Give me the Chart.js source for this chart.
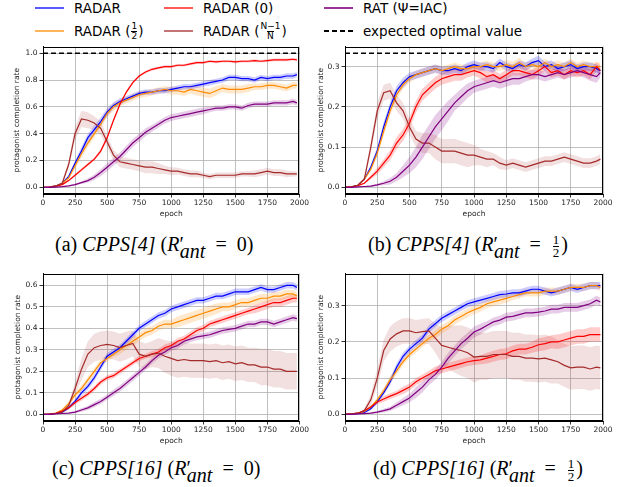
<!DOCTYPE html>
<html>
<head>
<meta charset="utf-8">
<script src="https://cdn.jsdelivr.net/npm/chart.js@4.4.1/dist/chart.umd.min.js"></script>
<style>
  body { margin: 0; background: #fff; }
  #fig { position: relative; width: 628px; height: 487px; overflow: hidden; font-family: "DejaVu Sans", sans-serif; color: #000; }
  .panel { position: absolute; }
  .lg { position: absolute; height: 20px; display: flex; align-items: center; font-size: 13.5px; white-space: nowrap; }
  .sw { display: inline-block; width: 29px; height: 2px; margin-right: 10px; }
  .frac { display: inline-flex; flex-direction: column; align-items: center; font-size: 9px; line-height: 9px; vertical-align: middle; margin: 0 1px; }
  .frac span + span { border-top: 1px solid #000; }
  .cap { position: absolute; font-family: "Liberation Serif", serif; font-size: 20px; white-space: nowrap; line-height: 24px; }
  .cap .s { font-style: italic; position: relative; top: 7px; margin-left: -4px; }
  .cap .eq { margin: 0 5px; }
  .cap .cf { display: inline-flex; flex-direction: column; align-items: center; font-size: 13px; line-height: 12px; vertical-align: middle; margin: 0 2px; }
  .cap .cf span + span { border-top: 1px solid #000; }
</style>
</head>
<body>
<div id="fig">
  <div class="lg" style="left:35px;top:-2px"><span class="sw" style="background:rgba(0,0,255,0.65)"></span>RADAR</div>
  <div class="lg" style="left:35px;top:21px"><span class="sw" style="background:rgba(255,140,0,0.65)"></span>RADAR (<span class="frac"><span>1</span><span>2</span></span>)</div>
  <div class="lg" style="left:164px;top:-2px"><span class="sw" style="background:rgba(255,0,0,0.65)"></span>RADAR (0)</div>
  <div class="lg" style="left:164px;top:21px"><span class="sw" style="background:rgba(165,42,42,0.65)"></span>RADAR (<span class="frac"><span>N−1</span><span>N</span></span>)</div>
  <div class="lg" style="left:324px;top:-2px"><span class="sw" style="background:rgba(128,0,128,0.8)"></span>RAT (Ψ=IAC)</div>
  <div class="lg" style="left:324px;top:21px"><span class="sw" style="background:repeating-linear-gradient(to right,#000 0 5px,transparent 5px 8px)"></span>expected optimal value</div>

  <div class="panel" style="left:0;top:40px"><canvas id="ca" width="310" height="180"></canvas></div>
  <div class="panel" style="left:315px;top:40px"><canvas id="cb" width="313" height="180"></canvas></div>
  <div class="panel" style="left:0;top:267px"><canvas id="cc" width="310" height="180"></canvas></div>
  <div class="panel" style="left:315px;top:267px"><canvas id="cd" width="313" height="180"></canvas></div>

  <div class="cap" style="left:55px;top:232px">(a) <i>CPPS[4]</i> (<i>R</i>′<span class="s">ant</span> <span class="eq">=</span> 0)</div>
  <div class="cap" style="left:368px;top:232px">(b) <i>CPPS[4]</i> (<i>R</i>′<span class="s">ant</span> <span class="eq">=</span> <span class="cf"><span>1</span><span>2</span></span>)</div>
  <div class="cap" style="left:52px;top:456px">(c) <i>CPPS[16]</i> (<i>R</i>′<span class="s">ant</span> <span class="eq">=</span> 0)</div>
  <div class="cap" style="left:373px;top:456px">(d) <i>CPPS[16]</i> (<i>R</i>′<span class="s">ant</span> <span class="eq">=</span> <span class="cf"><span>1</span><span>2</span></span>)</div>
</div>
<script>
const epochs = [0,50,100,150,200,250,300,350,400,450,500,550,600,650,700,750,800,850,900,950,1000,1050,1100,1150,1200,1250,1300,1350,1400,1450,1500,1550,1600,1650,1700,1750,1800,1850,1900,1950,1980];

// (a) CPPS[4], R'ant = 0
const aRadar = [0,0.002,0.01,0.03,0.08,0.18,0.27,0.37,0.43,0.49,0.56,0.61,0.64,0.66,0.68,0.7,0.71,0.71,0.72,0.72,0.73,0.74,0.75,0.75,0.76,0.77,0.78,0.79,0.8,0.82,0.82,0.81,0.81,0.8,0.82,0.81,0.82,0.82,0.83,0.83,0.84];
const aHalf  = [0,0.002,0.01,0.03,0.07,0.16,0.25,0.33,0.4,0.47,0.55,0.6,0.63,0.65,0.67,0.69,0.7,0.71,0.72,0.73,0.72,0.72,0.71,0.73,0.72,0.71,0.7,0.72,0.74,0.73,0.73,0.73,0.74,0.75,0.75,0.76,0.76,0.75,0.74,0.76,0.76];
const aZero  = [0,0.002,0.008,0.02,0.05,0.09,0.13,0.17,0.21,0.27,0.37,0.5,0.62,0.71,0.78,0.83,0.86,0.88,0.89,0.9,0.9,0.91,0.91,0.92,0.93,0.93,0.94,0.935,0.94,0.94,0.935,0.94,0.94,0.945,0.94,0.945,0.95,0.95,0.95,0.955,0.95];
const aNm1   = [0,0.002,0.01,0.03,0.17,0.4,0.51,0.5,0.48,0.44,0.34,0.24,0.19,0.18,0.17,0.16,0.15,0.15,0.14,0.13,0.12,0.12,0.11,0.1,0.1,0.09,0.08,0.09,0.09,0.09,0.09,0.1,0.1,0.1,0.11,0.12,0.11,0.11,0.1,0.1,0.1];
const aRat   = [0,0,0.002,0.005,0.01,0.02,0.035,0.05,0.075,0.11,0.15,0.19,0.23,0.28,0.33,0.37,0.41,0.44,0.47,0.5,0.52,0.53,0.54,0.55,0.56,0.57,0.58,0.59,0.59,0.6,0.6,0.59,0.61,0.62,0.62,0.62,0.63,0.63,0.63,0.64,0.63];
const aRadarSd = [0,0,0.002,0.005,0.01,0.02,0.03,0.03,0.03,0.03,0.03,0.025,0.025,0.02,0.02,0.02,0.02,0.02,0.02,0.02,0.02,0.02,0.02,0.02,0.02,0.02,0.02,0.02,0.02,0.02,0.02,0.02,0.02,0.02,0.02,0.02,0.02,0.02,0.02,0.02,0.02];
const aHalfSd  = [0,0,0.002,0.005,0.01,0.02,0.03,0.03,0.03,0.03,0.03,0.03,0.025,0.025,0.025,0.025,0.025,0.025,0.025,0.025,0.03,0.03,0.03,0.03,0.035,0.035,0.035,0.035,0.03,0.03,0.03,0.03,0.03,0.025,0.025,0.025,0.025,0.025,0.025,0.025,0.025];
const aZeroSd  = [0,0,0.002,0.004,0.008,0.01,0.012,0.012,0.012,0.015,0.015,0.015,0.015,0.012,0.01,0.01,0.01,0.01,0.01,0.01,0.01,0.01,0.01,0.01,0.01,0.01,0.01,0.01,0.01,0.01,0.01,0.01,0.01,0.01,0.01,0.01,0.01,0.01,0.01,0.01,0.01];
const aNm1Sd   = [0,0,0.004,0.01,0.03,0.05,0.06,0.06,0.05,0.05,0.04,0.04,0.04,0.04,0.04,0.04,0.045,0.045,0.04,0.03,0.03,0.025,0.025,0.025,0.025,0.02,0.02,0.02,0.02,0.02,0.02,0.02,0.02,0.025,0.025,0.025,0.025,0.025,0.025,0.02,0.02];
const aRatSd   = [0,0,0.001,0.002,0.004,0.006,0.01,0.015,0.02,0.025,0.03,0.03,0.03,0.03,0.03,0.03,0.03,0.025,0.025,0.025,0.025,0.025,0.025,0.025,0.025,0.025,0.02,0.02,0.02,0.02,0.02,0.02,0.02,0.02,0.02,0.02,0.02,0.02,0.02,0.02,0.02];

// (b) CPPS[4], R'ant = 1/2
const bRadar = [0,0.001,0.005,0.02,0.05,0.09,0.15,0.2,0.24,0.26,0.275,0.28,0.285,0.29,0.295,0.29,0.29,0.295,0.29,0.3,0.305,0.3,0.3,0.295,0.31,0.3,0.295,0.305,0.3,0.31,0.315,0.3,0.305,0.295,0.3,0.305,0.295,0.3,0.3,0.295,0.29];
const bHalf  = [0,0.001,0.005,0.02,0.045,0.085,0.14,0.19,0.23,0.255,0.27,0.28,0.285,0.29,0.295,0.29,0.295,0.3,0.295,0.295,0.3,0.3,0.305,0.3,0.3,0.305,0.3,0.31,0.3,0.305,0.3,0.31,0.3,0.305,0.3,0.31,0.3,0.305,0.3,0.3,0.3];
const bZero  = [0,0.001,0.004,0.01,0.025,0.04,0.06,0.08,0.11,0.13,0.16,0.2,0.23,0.245,0.26,0.27,0.275,0.28,0.28,0.285,0.29,0.285,0.275,0.28,0.27,0.28,0.29,0.29,0.285,0.28,0.29,0.3,0.285,0.29,0.28,0.29,0.285,0.29,0.28,0.3,0.29];
const bNm1   = [0,0.001,0.005,0.02,0.1,0.19,0.235,0.24,0.21,0.19,0.15,0.12,0.11,0.11,0.1,0.09,0.09,0.09,0.085,0.08,0.08,0.075,0.07,0.07,0.06,0.055,0.06,0.055,0.05,0.055,0.06,0.065,0.065,0.07,0.075,0.07,0.065,0.06,0.06,0.065,0.07];
const bRat   = [0,0,0.001,0.002,0.003,0.006,0.01,0.015,0.025,0.04,0.055,0.075,0.1,0.125,0.15,0.17,0.19,0.21,0.225,0.24,0.25,0.255,0.26,0.265,0.26,0.265,0.27,0.27,0.275,0.28,0.28,0.275,0.28,0.285,0.28,0.285,0.29,0.285,0.28,0.275,0.285];
const bRadarSd = [0,0,0.001,0.003,0.006,0.01,0.012,0.012,0.012,0.012,0.01,0.01,0.01,0.01,0.01,0.01,0.01,0.01,0.01,0.01,0.01,0.01,0.01,0.01,0.01,0.01,0.01,0.01,0.01,0.01,0.012,0.012,0.01,0.01,0.01,0.01,0.01,0.01,0.01,0.01,0.01];
const bHalfSd  = [0,0,0.001,0.003,0.006,0.01,0.012,0.012,0.012,0.01,0.01,0.01,0.01,0.01,0.01,0.01,0.01,0.01,0.01,0.01,0.01,0.01,0.01,0.01,0.01,0.012,0.012,0.012,0.01,0.01,0.01,0.01,0.01,0.01,0.01,0.01,0.01,0.01,0.01,0.01,0.01];
const bZeroSd  = [0,0,0.001,0.002,0.005,0.008,0.01,0.012,0.015,0.015,0.015,0.015,0.015,0.015,0.015,0.015,0.015,0.015,0.015,0.012,0.012,0.015,0.015,0.012,0.012,0.012,0.012,0.012,0.012,0.012,0.012,0.012,0.012,0.012,0.012,0.012,0.012,0.012,0.012,0.012,0.012];
const bNm1Sd   = [0,0,0.002,0.005,0.015,0.02,0.02,0.02,0.02,0.02,0.02,0.02,0.025,0.025,0.03,0.03,0.03,0.03,0.03,0.03,0.025,0.02,0.02,0.015,0.015,0.012,0.012,0.012,0.012,0.012,0.012,0.012,0.012,0.012,0.012,0.012,0.012,0.012,0.012,0.012,0.012];
const bRatSd   = [0,0,0.001,0.001,0.002,0.003,0.005,0.008,0.01,0.015,0.02,0.025,0.03,0.03,0.03,0.028,0.025,0.02,0.02,0.018,0.015,0.015,0.015,0.015,0.015,0.015,0.015,0.015,0.012,0.012,0.012,0.012,0.012,0.012,0.012,0.012,0.012,0.012,0.015,0.015,0.012];

// (c) CPPS[16], R'ant = 0
const cRadar = [0,0.001,0.004,0.01,0.03,0.06,0.1,0.13,0.17,0.22,0.27,0.29,0.31,0.34,0.37,0.4,0.42,0.44,0.46,0.47,0.49,0.5,0.51,0.52,0.53,0.53,0.54,0.55,0.55,0.56,0.57,0.57,0.57,0.58,0.59,0.58,0.58,0.59,0.6,0.6,0.59];
const cHalf  = [0,0.001,0.006,0.02,0.05,0.09,0.12,0.16,0.2,0.24,0.26,0.28,0.3,0.32,0.34,0.36,0.38,0.39,0.41,0.42,0.42,0.43,0.44,0.45,0.46,0.47,0.48,0.49,0.5,0.5,0.51,0.52,0.52,0.53,0.54,0.54,0.55,0.55,0.56,0.56,0.55];
const cZero  = [0,0.001,0.005,0.015,0.03,0.055,0.075,0.095,0.12,0.15,0.17,0.18,0.2,0.22,0.24,0.26,0.27,0.28,0.29,0.31,0.32,0.34,0.35,0.37,0.39,0.4,0.42,0.43,0.44,0.45,0.46,0.47,0.48,0.49,0.5,0.51,0.52,0.52,0.53,0.54,0.54];
const cNm1   = [0,0.001,0.004,0.01,0.04,0.12,0.21,0.28,0.31,0.32,0.325,0.32,0.31,0.32,0.33,0.28,0.27,0.28,0.285,0.27,0.26,0.25,0.255,0.25,0.25,0.25,0.245,0.25,0.24,0.245,0.235,0.24,0.23,0.23,0.22,0.22,0.21,0.21,0.2,0.2,0.2];
const cRat   = [0,0,0.002,0.004,0.006,0.01,0.02,0.03,0.045,0.06,0.08,0.1,0.12,0.145,0.17,0.195,0.22,0.25,0.275,0.29,0.31,0.32,0.34,0.35,0.36,0.365,0.37,0.38,0.39,0.395,0.4,0.41,0.42,0.42,0.43,0.43,0.42,0.43,0.44,0.45,0.445];
const cRadarSd = [0,0,0.002,0.004,0.008,0.01,0.012,0.015,0.015,0.015,0.015,0.015,0.015,0.015,0.015,0.015,0.015,0.015,0.015,0.015,0.015,0.015,0.015,0.015,0.015,0.015,0.015,0.015,0.015,0.015,0.015,0.015,0.015,0.015,0.015,0.015,0.015,0.015,0.015,0.015,0.015];
const cHalfSd  = [0,0,0.002,0.005,0.01,0.012,0.015,0.015,0.015,0.015,0.015,0.015,0.02,0.02,0.02,0.02,0.02,0.02,0.02,0.02,0.02,0.025,0.025,0.025,0.025,0.025,0.025,0.025,0.02,0.02,0.02,0.02,0.02,0.02,0.02,0.02,0.02,0.02,0.02,0.02,0.02];
const cZeroSd  = [0,0,0.002,0.004,0.008,0.01,0.012,0.012,0.012,0.012,0.012,0.012,0.012,0.012,0.012,0.012,0.012,0.015,0.015,0.015,0.015,0.015,0.015,0.015,0.015,0.015,0.015,0.015,0.015,0.015,0.015,0.015,0.015,0.02,0.02,0.02,0.02,0.02,0.02,0.02,0.02];
const cNm1Sd   = [0,0,0.002,0.005,0.015,0.03,0.05,0.06,0.065,0.065,0.065,0.065,0.065,0.065,0.06,0.06,0.06,0.06,0.07,0.075,0.08,0.08,0.08,0.08,0.08,0.08,0.08,0.08,0.08,0.08,0.08,0.08,0.08,0.08,0.085,0.085,0.085,0.085,0.085,0.085,0.085];
const cRatSd   = [0,0,0.001,0.002,0.003,0.005,0.008,0.01,0.012,0.012,0.012,0.015,0.015,0.015,0.015,0.015,0.015,0.015,0.015,0.015,0.015,0.015,0.015,0.015,0.015,0.015,0.015,0.015,0.015,0.015,0.015,0.015,0.015,0.015,0.015,0.015,0.015,0.015,0.015,0.015,0.015];

// (d) CPPS[16], R'ant = 1/2
const dRadar = [0,0.001,0.002,0.005,0.015,0.035,0.06,0.09,0.13,0.16,0.18,0.195,0.21,0.235,0.25,0.265,0.275,0.285,0.295,0.305,0.31,0.315,0.32,0.325,0.33,0.332,0.335,0.335,0.34,0.345,0.345,0.34,0.335,0.34,0.345,0.35,0.345,0.35,0.355,0.355,0.355];
const dHalf  = [0,0.001,0.003,0.008,0.02,0.04,0.065,0.095,0.12,0.145,0.165,0.18,0.195,0.21,0.22,0.235,0.245,0.26,0.27,0.28,0.288,0.295,0.305,0.31,0.315,0.32,0.325,0.33,0.335,0.335,0.335,0.34,0.34,0.34,0.345,0.35,0.35,0.35,0.355,0.355,0.35];
const dZero  = [0,0.001,0.003,0.01,0.02,0.034,0.042,0.05,0.057,0.066,0.075,0.09,0.1,0.11,0.12,0.125,0.13,0.135,0.14,0.145,0.148,0.15,0.155,0.16,0.165,0.167,0.175,0.18,0.18,0.185,0.192,0.195,0.2,0.2,0.205,0.21,0.215,0.215,0.22,0.22,0.22];
const dNm1   = [0,0.001,0.003,0.01,0.04,0.1,0.176,0.208,0.222,0.23,0.23,0.225,0.228,0.23,0.21,0.19,0.185,0.18,0.176,0.17,0.158,0.16,0.16,0.165,0.165,0.165,0.16,0.16,0.155,0.155,0.153,0.155,0.15,0.145,0.135,0.128,0.13,0.13,0.125,0.13,0.128];
const dRat   = [0,0,0.001,0.002,0.003,0.006,0.01,0.015,0.025,0.035,0.045,0.06,0.075,0.095,0.11,0.13,0.155,0.175,0.195,0.21,0.227,0.235,0.245,0.255,0.26,0.268,0.27,0.275,0.28,0.28,0.282,0.285,0.29,0.29,0.295,0.295,0.295,0.3,0.305,0.315,0.31];
const dRadarSd = [0,0,0.001,0.002,0.004,0.006,0.008,0.01,0.01,0.01,0.01,0.01,0.01,0.01,0.01,0.01,0.01,0.01,0.01,0.01,0.01,0.01,0.01,0.01,0.01,0.01,0.01,0.01,0.01,0.01,0.01,0.01,0.01,0.01,0.01,0.01,0.01,0.01,0.01,0.01,0.01];
const dHalfSd  = [0,0,0.001,0.002,0.004,0.006,0.008,0.01,0.01,0.01,0.01,0.01,0.01,0.01,0.012,0.012,0.012,0.012,0.012,0.012,0.012,0.012,0.012,0.012,0.012,0.012,0.01,0.01,0.01,0.01,0.01,0.01,0.01,0.01,0.01,0.01,0.01,0.01,0.01,0.01,0.01];
const dZeroSd  = [0,0,0.001,0.002,0.004,0.006,0.008,0.008,0.008,0.01,0.01,0.01,0.01,0.01,0.012,0.012,0.012,0.012,0.012,0.012,0.012,0.012,0.015,0.015,0.015,0.015,0.015,0.015,0.015,0.015,0.018,0.018,0.018,0.02,0.02,0.02,0.02,0.02,0.02,0.02,0.02];
const dNm1Sd   = [0,0,0.002,0.005,0.015,0.025,0.03,0.035,0.035,0.035,0.035,0.035,0.035,0.035,0.04,0.05,0.06,0.065,0.07,0.07,0.07,0.065,0.065,0.065,0.065,0.065,0.065,0.065,0.065,0.065,0.065,0.065,0.065,0.06,0.06,0.06,0.06,0.06,0.06,0.06,0.06];
const dRatSd   = [0,0,0.001,0.001,0.002,0.003,0.005,0.006,0.008,0.01,0.012,0.015,0.015,0.015,0.015,0.015,0.015,0.015,0.015,0.015,0.015,0.015,0.012,0.012,0.012,0.012,0.012,0.012,0.012,0.012,0.012,0.012,0.012,0.012,0.012,0.012,0.012,0.012,0.012,0.012,0.012];

// expected optimal value per panel (only shown for CPPS[4])
const expectedA = 1.0;
const expectedB = 1 / 3;

const colors = ['#0000ff', '#ff8c00', '#ff0000', '#a52a2a', '#800080'];
const lineOrder = [5, 4, 3, 2, 1];

function fade(hex, a) {
  const n = parseInt(hex.slice(1), 16);
  return `rgba(${n >> 16},${(n >> 8) & 255},${n & 255},${a})`;
}

const frame = {
  id: 'frame',
  afterDatasetsDraw(chart) {
    const { ctx, chartArea: a } = chart;
    ctx.save();
    ctx.strokeStyle = '#000';
    ctx.lineWidth = 1;
    const l = Math.round(a.left) + 0.5, t = Math.round(a.top) + 0.5;
    const r = Math.round(a.right) - 0.5, b = Math.round(a.bottom) - 0.5;
    ctx.strokeRect(l, t, r - l, b - t);
    ctx.restore();
  }
};

function panel(id, means, sds, expected, yMin, yMax, yStep, yAxisW, yTitlePad, padRight) {
  const datasets = [];
  means.forEach((vals, i) => {
    const lo = epochs.map((e, k) => ({ x: e, y: vals[k] - sds[i][k] }));
    const hi = epochs.map((e, k) => ({ x: e, y: vals[k] + sds[i][k] }));
    datasets.push({ data: lo, borderWidth: 0, pointRadius: 0, fill: false, order: 20 + i });
    datasets.push({ data: hi, borderWidth: 0, pointRadius: 0, fill: '-1',
      backgroundColor: fade(colors[i], i === 3 ? 0.15 : 0.2), order: 20 + i });
  });
  means.forEach((vals, i) => {
    datasets.push({
      data: epochs.map((e, k) => ({ x: e, y: vals[k] })),
      borderColor: colors[i], borderWidth: 1.2, pointRadius: 0, fill: false, order: lineOrder[i]
    });
  });
  if (expected !== null) {
    datasets.push({
      data: [{ x: 0, y: expected }, { x: 2000, y: expected }],
      borderColor: '#000', borderWidth: 1.5, borderDash: [5, 3], pointRadius: 0, fill: false, order: 0
    });
  }
  const tickFont = { family: 'DejaVu Sans', size: 7.5 };
  return new Chart(document.getElementById(id), {
    type: 'line',
    data: { datasets },
    plugins: [frame],
    options: {
      responsive: false,
      animation: false,
      layout: { padding: { left: 0, top: 5, right: padRight, bottom: 0 } },
      plugins: { legend: { display: false }, tooltip: { enabled: false } },
      scales: {
        x: {
          type: 'linear', min: 0, max: 2000,
          ticks: { stepSize: 250, font: tickFont, color: '#222', padding: 1, maxRotation: 0, autoSkip: false,
            callback: v => String(v) },
          grid: { color: '#b0b0b0', lineWidth: 0.8, tickColor: '#000', tickLength: 3.5 },
          border: { display: true, color: '#000' },
          title: { display: true, text: 'epoch', font: tickFont, color: '#222', padding: { top: 0, bottom: 1 } },
          afterFit(s) { s.height = 26; }
        },
        y: {
          type: 'linear', min: yMin, max: yMax,
          ticks: { stepSize: yStep, includeBounds: false, font: tickFont, color: '#222', padding: 2,
            callback: v => v.toFixed(1) },
          grid: { color: '#b0b0b0', lineWidth: 0.8, tickColor: '#000', tickLength: 3.5 },
          border: { display: true, color: '#000' },
          title: { display: true, text: 'protagonist completion rate', font: tickFont, color: '#222',
            padding: { top: yTitlePad, bottom: 0 } },
          afterFit(s) { s.width = yAxisW; }
        }
      }
    }
  });
}

panel('ca', [aRadar, aHalf, aZero, aNm1, aRat], [aRadarSd, aHalfSd, aZeroSd, aNm1Sd, aRatSd], expectedA, -0.05, 1.05, 0.2, 43, 13, 10);
panel('cb', [bRadar, bHalf, bZero, bNm1, bRat], [bRadarSd, bHalfSd, bZeroSd, bNm1Sd, bRatSd], expectedB, -0.0167, 0.35, 0.1, 30, 2, 25);
panel('cc', [cRadar, cHalf, cZero, cNm1, cRat], [cRadarSd, cHalfSd, cZeroSd, cNm1Sd, cRatSd], null, -0.031, 0.655, 0.1, 43, 14, 10);
panel('cd', [dRadar, dHalf, dZero, dNm1, dRat], [dRadarSd, dHalfSd, dZeroSd, dNm1Sd, dRatSd], null, -0.0185, 0.3885, 0.1, 30, 2, 25);
</script>
</body>
</html>
